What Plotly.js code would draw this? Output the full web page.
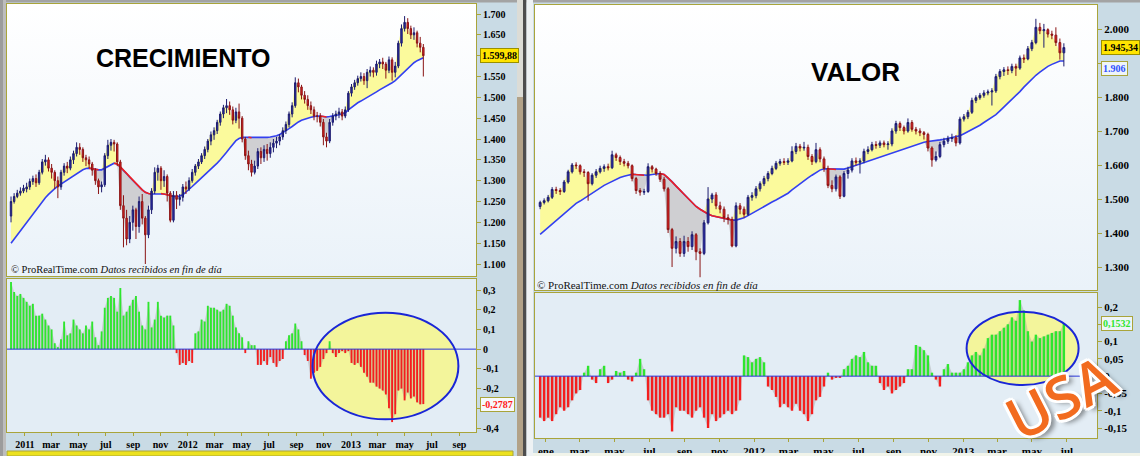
<!DOCTYPE html>
<html><head><meta charset="utf-8">
<script src="https://cdn.plot.ly/plotly-3.0.1.min.js"></script>
<style>html,body{margin:0;padding:0;background:#c9dbe5;}#chart{width:1140px;height:456px;}</style>
</head><body><div id="chart"></div>
<script>
// ---------- DATA: CRECIMIENTO (weekly) ----------
const leftStart = '2010-12-01';
const leftOpen = [1215,1250,1262,1270,1275,1280,1285,1298,1305,1295,1320,1345,1350,1330,1320,1300,1285,1320,1335,1330,1350,1365,1380,1375,1355,1350,1340,1325,1300,1285,1290,1360,1385,1392,1388,1345,1240,1210,1160,1200,1230,1190,1250,1210,1170,1230,1275,1320,1330,1300,1310,1270,1205,1265,1255,1260,1285,1280,1300,1320,1335,1345,1360,1375,1395,1410,1420,1440,1460,1475,1480,1470,1445,1465,1450,1400,1360,1340,1320,1335,1370,1355,1375,1365,1380,1390,1395,1405,1420,1435,1460,1480,1535,1525,1505,1495,1480,1470,1455,1455,1440,1405,1395,1440,1455,1460,1465,1455,1470,1510,1525,1535,1545,1550,1540,1560,1565,1560,1580,1585,1580,1565,1590,1560,1575,1630,1665,1680,1665,1650,1655,1630,1620];
const leftHigh = [1262,1270,1278,1284,1290,1295,1305,1312,1315,1326,1352,1362,1356,1340,1325,1310,1326,1342,1345,1358,1372,1392,1390,1380,1362,1358,1345,1330,1305,1298,1366,1398,1400,1398,1392,1350,1265,1230,1215,1240,1235,1262,1268,1215,1240,1282,1332,1338,1335,1325,1315,1275,1275,1275,1268,1292,1298,1308,1328,1340,1352,1366,1382,1400,1418,1428,1446,1466,1482,1496,1490,1478,1475,1485,1455,1405,1372,1350,1348,1378,1380,1385,1388,1392,1400,1405,1412,1428,1442,1466,1488,1548,1545,1530,1515,1505,1490,1478,1465,1462,1448,1415,1448,1462,1468,1475,1472,1478,1515,1532,1542,1552,1560,1558,1568,1574,1572,1588,1592,1595,1585,1598,1596,1585,1636,1675,1695,1690,1672,1668,1660,1645,1628];
const leftLow = [1200,1245,1258,1264,1270,1272,1278,1290,1285,1290,1315,1336,1322,1305,1280,1258,1278,1312,1318,1325,1340,1358,1362,1345,1335,1330,1312,1290,1268,1272,1285,1352,1372,1370,1335,1230,1140,1145,1150,1180,1160,1175,1195,1100,1162,1220,1268,1300,1278,1285,1250,1200,1200,1232,1240,1250,1268,1275,1295,1312,1328,1340,1352,1368,1385,1398,1412,1432,1450,1462,1458,1435,1438,1425,1392,1350,1325,1310,1315,1328,1340,1345,1348,1355,1368,1378,1385,1398,1412,1428,1452,1475,1512,1495,1485,1470,1460,1445,1440,1430,1385,1380,1390,1432,1445,1450,1445,1450,1465,1502,1518,1528,1538,1530,1522,1550,1548,1552,1570,1568,1545,1558,1540,1548,1570,1622,1658,1652,1640,1638,1620,1608,1550];
const leftClose = [1250,1262,1270,1275,1282,1285,1298,1305,1295,1320,1345,1350,1330,1320,1300,1285,1320,1335,1330,1350,1365,1380,1375,1355,1350,1340,1325,1300,1285,1290,1360,1385,1392,1388,1345,1240,1210,1160,1200,1230,1190,1250,1210,1170,1230,1275,1320,1330,1300,1310,1270,1205,1265,1255,1260,1285,1280,1300,1320,1335,1345,1360,1375,1395,1410,1420,1440,1460,1475,1480,1470,1445,1465,1450,1400,1360,1340,1320,1335,1370,1355,1375,1365,1380,1390,1395,1405,1420,1435,1460,1480,1535,1525,1505,1495,1480,1470,1455,1455,1440,1405,1395,1440,1455,1460,1465,1455,1470,1510,1525,1535,1545,1550,1540,1560,1565,1560,1580,1585,1580,1565,1590,1560,1575,1630,1665,1680,1665,1650,1655,1630,1620,1599.88];
const leftMA = [1150,1160,1170,1180,1190,1200,1210,1220,1230,1240,1250,1259,1267,1275,1281,1287,1292,1297,1302,1307,1312,1317,1322,1326,1329,1330,1329,1327,1326,1326,1330,1335,1339,1342,1340,1333,1325,1317,1308,1300,1292,1285,1278,1272,1269,1268,1268,1269,1269,1268,1266,1264,1262,1262,1263,1266,1272,1279,1286,1293,1300,1307,1313,1320,1326,1334,1342,1350,1358,1368,1378,1388,1396,1401,1404,1404,1404,1403,1403,1403,1403,1403,1404,1405,1406,1408,1411,1415,1420,1425,1430,1436,1441,1445,1448,1450,1452,1454,1455,1455,1454,1453,1454,1456,1457,1458,1460,1463,1470,1476,1482,1487,1491,1495,1499,1503,1508,1513,1518,1522,1526,1530,1535,1540,1547,1555,1563,1570,1577,1583,1588,1592,1595];
const leftOsc = [0.34,0.29,0.27,0.28,0.26,0.24,0.22,0.23,0.17,0.17,0.18,0.15,0.12,0.10,0.03,0.01,0.05,0.14,0.07,0.08,0.15,0.12,0.10,0.08,0.12,0.10,0.14,0.06,0.02,0.09,0.21,0.26,0.27,0.26,0.19,0.31,0.17,0.19,0.22,0.25,0.27,0.19,0.12,0.10,0.24,0.11,0.15,0.24,0.17,0.16,0.17,0.17,0.12,-0.02,-0.08,-0.07,-0.08,-0.06,-0.07,0.08,0.09,0.15,0.14,0.22,0.21,0.21,0.20,0.19,0.20,0.23,0.22,0.17,0.11,0.08,0.06,-0.02,0.04,0.02,0.02,-0.08,-0.08,-0.06,-0.08,-0.04,-0.07,-0.09,-0.06,-0.05,0.04,0.07,0.08,0.13,0.10,0.04,-0.03,-0.06,-0.15,-0.12,-0.11,-0.09,-0.05,-0.02,0.04,-0.02,-0.04,-0.02,-0.01,-0.02,-0.01,-0.07,-0.08,-0.07,-0.09,-0.12,-0.14,-0.17,-0.17,-0.19,-0.20,-0.21,-0.23,-0.30,-0.37,-0.33,-0.21,-0.20,-0.26,-0.22,-0.25,-0.24,-0.27,-0.28,-0.2787];

// ---------- DATA: VALOR (weekly) ----------
const rightStart = '2010-12-22';
const rightOpen = [1478,1490,1495,1505,1528,1525,1522,1550,1580,1600,1598,1580,1578,1545,1570,1580,1590,1595,1592,1630,1622,1610,1605,1598,1560,1525,1520,1522,1595,1588,1575,1558,1530,1410,1355,1375,1340,1375,1360,1395,1345,1340,1430,1500,1512,1480,1470,1445,1440,1362,1480,1470,1455,1505,1510,1530,1545,1560,1575,1590,1605,1610,1608,1612,1640,1655,1650,1652,1625,1610,1645,1618,1590,1540,1530,1565,1508,1575,1585,1612,1608,1612,1640,1645,1660,1658,1665,1660,1662,1700,1722,1710,1700,1725,1705,1700,1695,1690,1650,1615,1625,1660,1670,1678,1680,1665,1735,1742,1755,1790,1798,1805,1812,1815,1818,1860,1875,1880,1878,1890,1885,1915,1912,1942,1960,2005,1995,1998,1985,1982,1960,1930];
const rightHigh = [1495,1502,1512,1535,1536,1532,1556,1586,1606,1608,1602,1588,1582,1576,1588,1598,1602,1604,1642,1636,1628,1618,1612,1602,1565,1532,1530,1605,1600,1592,1582,1565,1535,1415,1390,1385,1392,1388,1405,1400,1355,1438,1535,1518,1520,1492,1478,1455,1448,1490,1488,1478,1512,1520,1538,1552,1568,1582,1598,1612,1618,1620,1620,1655,1665,1662,1668,1660,1632,1665,1652,1625,1598,1555,1572,1570,1582,1595,1620,1622,1620,1648,1655,1668,1670,1672,1672,1670,1708,1730,1728,1716,1737,1732,1712,1708,1700,1695,1655,1640,1668,1680,1686,1692,1688,1742,1750,1762,1798,1805,1812,1820,1822,1826,1868,1882,1888,1890,1898,1898,1922,1925,1950,1968,2030,2018,2015,2002,1995,2005,1972,1958];
const rightLow = [1470,1484,1490,1500,1515,1512,1518,1545,1575,1588,1572,1565,1495,1540,1562,1575,1580,1584,1588,1612,1600,1596,1590,1552,1515,1510,1512,1518,1578,1568,1550,1522,1400,1300,1340,1330,1330,1345,1350,1320,1270,1335,1425,1488,1470,1458,1432,1425,1358,1358,1455,1445,1450,1495,1502,1522,1538,1552,1570,1585,1598,1600,1600,1608,1632,1640,1642,1615,1600,1605,1608,1580,1532,1520,1522,1500,1505,1560,1578,1598,1575,1605,1632,1640,1648,1650,1652,1645,1655,1692,1700,1690,1695,1698,1690,1685,1675,1640,1595,1610,1620,1652,1662,1668,1655,1660,1728,1735,1750,1782,1792,1798,1805,1775,1812,1852,1862,1865,1870,1862,1880,1900,1908,1935,1955,1985,1945,1975,1970,1950,1910,1890];
const rightClose = [1490,1495,1505,1528,1525,1522,1550,1580,1600,1598,1580,1578,1545,1570,1580,1590,1595,1592,1630,1622,1610,1605,1598,1560,1525,1520,1522,1595,1588,1575,1558,1530,1410,1355,1375,1340,1375,1360,1395,1345,1340,1430,1500,1512,1480,1470,1445,1440,1362,1480,1470,1455,1505,1510,1530,1545,1560,1575,1590,1605,1610,1608,1612,1640,1655,1650,1652,1625,1610,1645,1618,1590,1540,1530,1565,1508,1575,1585,1612,1608,1612,1640,1645,1660,1658,1665,1660,1662,1700,1722,1710,1700,1725,1705,1700,1695,1690,1650,1615,1625,1660,1670,1678,1680,1665,1735,1742,1755,1790,1798,1805,1812,1815,1818,1860,1875,1880,1878,1890,1885,1915,1912,1942,1960,2005,1995,1998,1985,1982,1960,1930,1945.34];
const rightMA = [1396,1406,1417,1427,1437,1448,1458,1468,1478,1487,1494,1502,1510,1517,1525,1532,1540,1546,1552,1558,1563,1567,1571,1573,1572,1571,1570,1570,1572,1574,1575,1572,1562,1551,1538,1526,1514,1502,1490,1478,1470,1462,1456,1451,1448,1445,1442,1440,1438,1438,1441,1445,1451,1458,1465,1472,1479,1485,1491,1497,1503,1509,1517,1527,1536,1546,1554,1562,1570,1578,1585,1589,1589,1588,1587,1587,1588,1591,1595,1599,1603,1607,1611,1615,1619,1623,1627,1632,1636,1640,1644,1648,1652,1656,1660,1664,1667,1669,1670,1672,1674,1676,1678,1680,1682,1686,1692,1698,1705,1711,1717,1725,1732,1739,1748,1759,1770,1782,1792,1803,1816,1829,1841,1853,1864,1873,1882,1890,1896,1902,1906,1906];
const rightOsc = [-0.12,-0.13,-0.12,-0.13,-0.11,-0.09,-0.10,-0.09,-0.07,-0.05,-0.04,0.01,0.03,-0.01,-0.02,0.02,0.03,-0.02,-0.01,0.015,0.01,0.015,-0.01,-0.015,0.01,0.05,0.02,-0.07,-0.10,-0.11,-0.12,-0.12,-0.11,-0.16,-0.09,-0.10,-0.10,-0.11,-0.12,-0.10,-0.09,-0.12,-0.15,-0.11,-0.13,-0.12,-0.11,-0.10,-0.11,-0.10,-0.07,0.06,0.055,0.04,0.05,0.055,0.04,-0.03,-0.04,-0.06,-0.09,-0.08,-0.09,-0.10,-0.08,-0.10,-0.11,-0.13,-0.11,-0.07,-0.06,-0.03,0.01,-0.01,-0.005,-0.005,0.02,0.03,0.05,0.06,0.055,0.07,0.04,0.03,0.03,-0.02,-0.04,-0.03,-0.05,-0.04,-0.03,-0.02,0.02,0.02,0.09,0.085,0.075,0.06,0.01,-0.01,-0.03,0.02,0.035,0.01,0.01,0.01,0.02,0.04,0.06,0.07,0.06,0.08,0.11,0.12,0.12,0.13,0.14,0.15,0.17,0.16,0.22,0.19,0.13,0.10,0.12,0.11,0.115,0.12,0.125,0.13,0.13,0.1532];

// ---------- TICKS / TEXT ----------
const leftTickDates = ['2011-01-01','2011-03-01','2011-05-01','2011-07-01','2011-09-01','2011-11-01','2012-01-01','2012-03-01','2012-05-01','2012-07-01','2012-09-01','2012-11-01','2013-01-01','2013-03-01','2013-05-01','2013-07-01','2013-09-01'];
const leftTickLabels = ['2011','mar','may','jul','sep','nov','2012','mar','may','jul','sep','nov','2013','mar','may','jul','sep'];
const rightTickDates = ['2011-01-01','2011-03-01','2011-05-01','2011-07-01','2011-09-01','2011-11-01','2012-01-01','2012-03-01','2012-05-01','2012-07-01','2012-09-01','2012-11-01','2013-01-01','2013-03-01','2013-05-01','2013-07-01'];
const rightTickLabels = ['ene','mar','may','jul','sep','nov','2012','mar','may','jul','sep','nov','2013','mar','may','jul'];
// tick labels hidden behind the last-value boxes are left blank
const leftPriceTicks = [1100,1150,1200,1250,1300,1350,1400,1450,1500,1550,1600,1650,1700];
const leftPriceLabels = ['1.100','1.150','1.200','1.250','1.300','1.350','1.400','1.450','1.500','1.550','','1.650','1.700'];
const rightPriceTicks = [1300,1400,1500,1600,1700,1800,1900,2000];
const rightPriceLabels = ['1.300','1.400','1.500','1.600','1.700','1.800','','2.000'];
const leftOscTicks = [0.3,0.2,0.1,0,-0.1,-0.2,-0.3,-0.4];
const leftOscLabels = ['0,3','0,2','0,1','0','-0,1','-0,2','','-0,4'];
const rightOscTicks = [0.2,0.15,0.1,0.05,0,-0.05,-0.1,-0.15];
const rightOscLabels = ['0,2','','0,1','0,05','0','-0,05','-0,1','-0,15'];
const titleLeft = 'CRECIMIENTO';
const titleRight = 'VALOR';
const sourceText = '© ProRealTime.com <i>Datos recibidos en fin de día</i>';
const stampText = 'USA';

// ---------- HELPERS ----------
const W = 1140, H = 456;
const px = v => v / W;
const py = v => 1 - v / H;
function weekly(start, n) {
  const d0 = new Date(start + 'T00:00:00Z').getTime();
  const out = [];
  for (let i = 0; i < n; i++) out.push(new Date(d0 + i * 7 * 86400000).toISOString().slice(0, 10));
  return out;
}
function fmtEs(v, dec) {
  const s = Math.abs(v).toFixed(dec).split('.');
  const intPart = s[0].replace(/\B(?=(\d{3})+(?!\d))/g, '.');
  return (v < 0 ? '-' : '') + intPart + (dec > 0 ? ',' + s[1] : '');
}
const OL = '#a9a43a';
const tickFontL = {family: 'Liberation Serif, Times New Roman, serif', size: 10, color: '#000', weight: 'bold'};
const tickFontR = {family: 'Liberation Serif, Times New Roman, serif', size: 11, color: '#000', weight: 'bold'};
const boxFont = {family: 'Liberation Serif, Times New Roman, serif', size: 10, color: '#000', weight: 'bold'};

function pricePanel(dates, o, h, l, c, ma, xa, ya, xc, yc) {
  const up = c.map((v, i) => Math.max(v, ma[i]));
  const dn = c.map((v, i) => Math.min(v, ma[i]));
  const red = ma.map((v, i) => ((i > 0 && v < ma[i - 1]) || (i < ma.length - 1 && ma[i + 1] < v)) ? v : null);
  const base = {type: 'scatter', mode: 'lines', x: dates, xaxis: xa, yaxis: ya, hoverinfo: 'skip', showlegend: false};
  return [
    Object.assign({}, base, {y: ma, line: {width: 0}}),
    Object.assign({}, base, {y: up, line: {width: 0}, fill: 'tonexty', fillcolor: '#fbfa9c'}),
    Object.assign({}, base, {y: ma, line: {width: 0}}),
    Object.assign({}, base, {y: dn, line: {width: 0}, fill: 'tonexty', fillcolor: '#cfcfd2'}),
    Object.assign({}, base, {y: ma, line: {width: 1.6, color: '#3340f0'}}),
    Object.assign({}, base, {y: red, line: {width: 1.6, color: '#f02020'}, connectgaps: false}),
    {type: 'candlestick', x: dates, open: o, high: h, low: l, close: c, xaxis: xc, yaxis: yc,
     increasing: {line: {color: '#1c1c6e', width: 1}, fillcolor: '#2b2bb0'},
     decreasing: {line: {color: '#8a1414', width: 1}, fillcolor: '#ee2020'},
     whiskerwidth: 0, hoverinfo: 'skip', showlegend: false}
  ];
}
function oscPanel(dates, osc, xa, ya, xb, yb) {
  return [
    {type: 'scatter', mode: 'lines', x: dates, y: osc, xaxis: xa, yaxis: ya, fill: 'tozeroy',
     fillcolor: 'rgba(150,150,150,0.35)', line: {width: 0}, hoverinfo: 'skip', showlegend: false},
    {type: 'bar', x: dates, y: osc, xaxis: xb, yaxis: yb, width: 4.2 * 86400000,
     marker: {color: osc.map(v => v >= 0 ? '#2ee62e' : '#f41e1e'), line: {width: 0}},
     hoverinfo: 'skip', showlegend: false}
  ];
}

const dL = weekly(leftStart, leftClose.length);
const dR = weekly(rightStart, rightClose.length);

const traces = [].concat(
  pricePanel(dL, leftOpen, leftHigh, leftLow, leftClose, leftMA, 'x', 'y', 'x5', 'y5'),
  oscPanel(dL, leftOsc, 'x2', 'y2', 'x7', 'y7'),
  pricePanel(dR, rightOpen, rightHigh, rightLow, rightClose, rightMA, 'x3', 'y3', 'x6', 'y6'),
  oscPanel(dR, rightOsc, 'x4', 'y4', 'x8', 'y8')
);

const rangeL = ['2010-11-22', '2013-10-08'];
const rangeR = ['2010-12-13', '2013-08-23'];
const yL = [1071.2, 1724], yL2 = [-0.4203, 0.3558];
const yR = [1232.4, 2070.6], yR2 = [-0.1789, 0.2405];

const frameX = {type: 'date', showgrid: false, zeroline: false, showline: true, mirror: true, linecolor: OL, linewidth: 1};
const frameY = {showgrid: false, zeroline: false, showline: true, mirror: true, linecolor: OL, linewidth: 1,
                side: 'right', ticks: 'outside', ticklen: 4, tickcolor: OL};
const hid = {visible: false, showgrid: false, zeroline: false};

const gradSvg = '<svg xmlns="http://www.w3.org/2000/svg" width="10" height="100" preserveAspectRatio="none">' +
  '<defs><linearGradient id="g" x1="0" y1="0" x2="0" y2="1"><stop offset="0" stop-color="#ffffff"/><stop offset="1" stop-color="#eaf2f9"/></linearGradient></defs>' +
  '<rect width="10" height="100" fill="url(#g)"/></svg>';
const gradSrc = 'data:image/svg+xml;charset=utf-8,' + encodeURIComponent(gradSvg);

const layout = {
  width: W, height: H, margin: {l: 0, r: 0, t: 0, b: 0},
  paper_bgcolor: '#c9dbe5', plot_bgcolor: '#f4f8fc', separators: ',.', showlegend: false,
  boxgap: 0.35,
  xaxis: Object.assign({}, frameX, {domain: [px(7), px(476)], range: rangeL, showticklabels: false, ticks: '', anchor: 'y', rangeslider: {visible: false}}),
  yaxis: Object.assign({}, frameY, {domain: [py(276), py(4)], range: yL, anchor: 'x', tickvals: leftPriceTicks, ticktext: leftPriceLabels, tickfont: tickFontL}),
  xaxis2: Object.assign({}, frameX, {domain: [px(7), px(476)], range: rangeL, anchor: 'y2', tickvals: leftTickDates, ticktext: leftTickLabels, ticks: 'outside', ticklen: 3, tickcolor: OL, tickfont: tickFontL}),
  yaxis2: Object.assign({}, frameY, {domain: [py(432), py(279)], range: yL2, anchor: 'x2', tickvals: leftOscTicks, ticktext: leftOscLabels, tickfont: tickFontL}),
  xaxis3: Object.assign({}, frameX, {domain: [px(535), px(1097)], range: rangeR, showticklabels: false, ticks: '', anchor: 'y3', rangeslider: {visible: false}}),
  yaxis3: Object.assign({}, frameY, {domain: [py(290), py(5)], range: yR, anchor: 'x3', tickvals: rightPriceTicks, ticktext: rightPriceLabels, tickfont: tickFontR}),
  xaxis4: Object.assign({}, frameX, {domain: [px(535), px(1097)], range: rangeR, anchor: 'y4', tickvals: rightTickDates, ticktext: rightTickLabels, ticks: 'outside', ticklen: 3, tickcolor: OL, tickfont: tickFontR}),
  yaxis4: Object.assign({}, frameY, {domain: [py(438), py(293)], range: yR2, anchor: 'x4', tickvals: rightOscTicks, ticktext: rightOscLabels, tickfont: tickFontR}),
  xaxis5: Object.assign({}, hid, {type: 'date', overlaying: 'x', range: rangeL, anchor: 'y5', rangeslider: {visible: false}}),
  yaxis5: Object.assign({}, hid, {overlaying: 'y', range: yL, anchor: 'x5'}),
  xaxis6: Object.assign({}, hid, {type: 'date', overlaying: 'x3', range: rangeR, anchor: 'y6', rangeslider: {visible: false}}),
  yaxis6: Object.assign({}, hid, {overlaying: 'y3', range: yR, anchor: 'x6'}),
  xaxis7: Object.assign({}, hid, {type: 'date', overlaying: 'x2', range: rangeL, anchor: 'y7'}),
  yaxis7: Object.assign({}, hid, {overlaying: 'y2', range: yL2, anchor: 'x7'}),
  xaxis8: Object.assign({}, hid, {type: 'date', overlaying: 'x4', range: rangeR, anchor: 'y8'}),
  yaxis8: Object.assign({}, hid, {overlaying: 'y4', range: yR2, anchor: 'x8'}),
  images: [
    {source: gradSrc, xref: 'x domain', yref: 'y domain', x: 0, y: 1, sizex: 1, sizey: 1, sizing: 'stretch', xanchor: 'left', yanchor: 'top', layer: 'below'},
    {source: gradSrc, xref: 'x3 domain', yref: 'y3 domain', x: 0, y: 1, sizex: 1, sizey: 1, sizing: 'stretch', xanchor: 'left', yanchor: 'top', layer: 'below'}
  ],
  shapes: [
    {type: 'rect', xref: 'x2 domain', yref: 'y2 domain', x0: 0, x1: 1, y0: 0, y1: 1, fillcolor: '#e3edf5', line: {width: 0}, layer: 'below'},
    {type: 'rect', xref: 'x4 domain', yref: 'y4 domain', x0: 0, x1: 1, y0: 0, y1: 1, fillcolor: '#e3edf5', line: {width: 0}, layer: 'below'},
    {type: 'circle', xref: 'x2 domain', yref: 'y2 domain', x0: (312.5 - 7) / 469, x1: (458.4 - 7) / 469, y0: (432 - 419.3) / 153, y1: (432 - 312.7) / 153, fillcolor: '#f3f59b', line: {width: 0}, layer: 'below'},
    {type: 'circle', xref: 'x4 domain', yref: 'y4 domain', x0: (966.6 - 535) / 562, x1: (1078.6 - 535) / 562, y0: (438 - 385) / 145, y1: (438 - 311.7) / 145, fillcolor: '#f3f59b', line: {width: 0}, layer: 'below'},
    {type: 'line', xref: 'x2 domain', yref: 'y2', x0: 0, x1: 1, y0: 0, y1: 0, line: {color: '#2a36d8', width: 1}, layer: 'above'},
    {type: 'line', xref: 'x4 domain', yref: 'y4', x0: 0, x1: 1, y0: 0, y1: 0, line: {color: '#2a36d8', width: 1}, layer: 'above'},
    {type: 'circle', xref: 'x2 domain', yref: 'y2 domain', x0: (312.5 - 7) / 469, x1: (458.4 - 7) / 469, y0: (432 - 419.3) / 153, y1: (432 - 312.7) / 153, line: {color: '#1a26d6', width: 2}, layer: 'above'},
    {type: 'circle', xref: 'x4 domain', yref: 'y4 domain', x0: (966.6 - 535) / 562, x1: (1078.6 - 535) / 562, y0: (438 - 385) / 145, y1: (438 - 311.7) / 145, line: {color: '#1a26d6', width: 2}, layer: 'above'},
    {type: 'rect', xref: 'paper', yref: 'paper', x0: 0, x1: 1, y0: py(2.5), y1: 1, fillcolor: '#a3a3a3', line: {width: 0}, layer: 'above'},
    {type: 'rect', xref: 'paper', yref: 'paper', x0: 0, x1: px(3), y0: 0, y1: 1, fillcolor: '#9c9c9c', line: {width: 0}, layer: 'above'},
    {type: 'rect', xref: 'paper', yref: 'paper', x0: px(3), x1: px(6), y0: 0, y1: 1, fillcolor: '#bdbdbd', line: {width: 0}, layer: 'above'},
    {type: 'rect', xref: 'paper', yref: 'paper', x0: px(517), x1: px(523), y0: 0, y1: 1, fillcolor: '#b2a288', line: {width: 0}, layer: 'above'},
    {type: 'rect', xref: 'paper', yref: 'paper', x0: px(517), x1: px(523), y0: py(97), y1: 1, fillcolor: '#dcdcd6', line: {width: 0}, layer: 'above'},
    {type: 'rect', xref: 'paper', yref: 'paper', x0: px(523), x1: px(526.5), y0: 0, y1: 1, fillcolor: '#4d4d4d', line: {width: 0}, layer: 'above'},
    {type: 'rect', xref: 'paper', yref: 'paper', x0: px(526.5), x1: px(533), y0: 0, y1: 1, fillcolor: '#eef2f4', line: {width: 0}, layer: 'above'},
    {type: 'rect', xref: 'paper', yref: 'paper', x0: px(7), x1: px(513), y0: 0, y1: py(451), fillcolor: '#ece11e', line: {color: OL, width: 1}, layer: 'above'},
    {type: 'rect', xref: 'paper', yref: 'paper', x0: px(533), x1: 1, y0: 0, y1: py(453), fillcolor: '#f1f4ea', line: {width: 0}, layer: 'above'}
  ],
  annotations: [
    {xref: 'paper', yref: 'paper', x: px(183), y: py(57.5), text: titleLeft, showarrow: false, xanchor: 'center', yanchor: 'middle',
     font: {family: 'Liberation Sans, Arial, sans-serif', size: 25, color: '#000', weight: 'bold'}},
    {xref: 'paper', yref: 'paper', x: px(855), y: py(72.5), text: titleRight, showarrow: false, xanchor: 'center', yanchor: 'middle',
     font: {family: 'Liberation Sans, Arial, sans-serif', size: 26, color: '#000', weight: 'bold'}},
    {xref: 'paper', yref: 'paper', x: px(9), y: py(269), text: sourceText, showarrow: false, xanchor: 'left', yanchor: 'middle',
     font: {family: 'Liberation Serif, Times New Roman, serif', size: 10.5, color: '#111'}},
    {xref: 'paper', yref: 'paper', x: px(535), y: py(284.5), text: sourceText, showarrow: false, xanchor: 'left', yanchor: 'middle',
     font: {family: 'Liberation Serif, Times New Roman, serif', size: 11, color: '#111'}},
    {xref: 'paper', yref: 'y', x: px(480), y: leftClose[leftClose.length - 1], text: fmtEs(leftClose[leftClose.length - 1], 2), showarrow: false, xanchor: 'left', yanchor: 'middle',
     bgcolor: '#ffe400', bordercolor: '#9a9000', borderwidth: 1, borderpad: 1, font: boxFont},
    {xref: 'paper', yref: 'y3', x: px(1101), y: rightClose[rightClose.length - 1], text: fmtEs(rightClose[rightClose.length - 1], 2), showarrow: false, xanchor: 'left', yanchor: 'middle',
     bgcolor: '#ffe400', bordercolor: '#9a9000', borderwidth: 1, borderpad: 1, font: boxFont},
    {xref: 'paper', yref: 'y3', x: px(1101), y: rightMA[rightMA.length - 1], text: fmtEs(rightMA[rightMA.length - 1], 0), showarrow: false, xanchor: 'left', yanchor: 'top',
     bgcolor: '#eef4f8', bordercolor: OL, borderwidth: 1, borderpad: 1, font: Object.assign({}, boxFont, {color: '#3050ff'})},
    {xref: 'paper', yref: 'y2', x: px(480), y: leftOsc[leftOsc.length - 1], text: fmtEs(leftOsc[leftOsc.length - 1], 4), showarrow: false, xanchor: 'left', yanchor: 'middle',
     bgcolor: '#f6f9fb', bordercolor: OL, borderwidth: 1, borderpad: 1, font: Object.assign({}, boxFont, {color: '#ff1a1a'})},
    {xref: 'paper', yref: 'y4', x: px(1101), y: rightOsc[rightOsc.length - 1], text: fmtEs(rightOsc[rightOsc.length - 1], 4), showarrow: false, xanchor: 'left', yanchor: 'middle',
     bgcolor: '#eef4f8', bordercolor: OL, borderwidth: 1, borderpad: 1, font: Object.assign({}, boxFont, {color: '#2ee62e'})},
    {xref: 'paper', yref: 'paper', x: px(1060), y: py(396), text: stampText, showarrow: false, xanchor: 'center', yanchor: 'middle', textangle: -27,
     font: {family: 'Open Sans, Noto Sans, sans-serif', size: 58, color: '#f26b1f', weight: 600,
            shadow: '3px 0 0 #fff, -3px 0 0 #fff, 0 3px 0 #fff, 0 -3px 0 #fff, 2px 2px 0 #fff, -2px 2px 0 #fff, 2px -2px 0 #fff, -2px -2px 0 #fff, 4px 5px 5px rgba(0,0,0,0.45)'}}
  ]
};

Plotly.newPlot('chart', traces, layout, {staticPlot: true, displayModeBar: false});
</script>
</body></html>
